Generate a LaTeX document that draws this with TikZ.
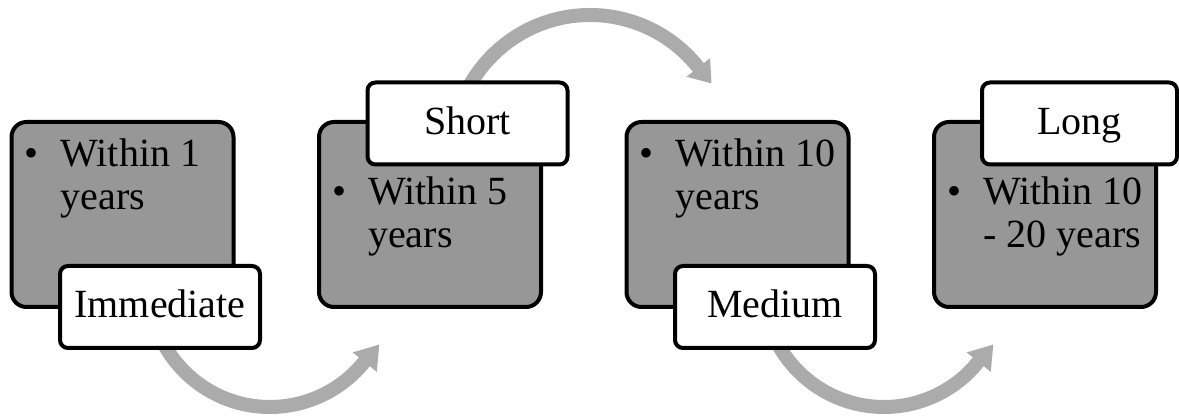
\documentclass[tikz,border=0pt]{standalone}
\usepackage{fontspec}
\setmainfont{Liberation Serif}
\usetikzlibrary{calc}
\definecolor{boxgray}{RGB}{151,151,151}
\definecolor{arrowgray}{RGB}{171,171,171}
\newcommand{\bulletlines}[2]{\begin{tabular}[t]{@{}l@{\hspace{22pt}}l@{}}\textbullet & #1\\ & #2\end{tabular}}
\begin{document}
\begin{tikzpicture}[x=1pt,y=1pt,
  stage/.style={draw=black, line width=4pt, fill=boxgray, rounded corners=15pt,
    minimum width=222pt, minimum height=185pt, inner sep=0pt},
  tag/.style={draw=black, line width=4pt, fill=white, rounded corners=8pt,
    minimum width=200pt, minimum height=82pt, inner sep=0pt,
    font=\fontsize{40}{43}\selectfont, text height=27pt, text depth=5pt},
  body/.style={anchor=base west, inner sep=0pt, font=\fontsize{40}{43}\selectfont},
  band/.style={draw=arrowgray, line width=14pt},
  head/.style={fill=arrowgray}]
\useasboundingbox (0,0) rectangle (1179,417);
% arrow centres
\coordinate (c1) at (270,131);
\coordinate (c2) at (590,264);
\coordinate (c3) at (884,131);
% arrows (behind)
\draw[band] ($(c1)+(180:121)$) arc[start angle=180, end angle=321.5, radius=121];
\fill[head] ($(c1)+(321.2:106)$) -- ($(c1)+(331.8:124)$) -- ($(c1)+(321.2:137)$) -- cycle;
\draw[band] ($(c2)+(180:138)$) arc[start angle=180, end angle=38, radius=138];
\fill[head] ($(c2)+(38.3:123)$) -- ($(c2)+(29.8:140)$) -- ($(c2)+(38.3:153)$) -- cycle;
\draw[band] ($(c3)+(180:121)$) arc[start angle=180, end angle=321.5, radius=121];
\fill[head] ($(c3)+(321.2:106)$) -- ($(c3)+(331.8:124)$) -- ($(c3)+(321.2:137)$) -- cycle;
% boxes
\node[stage] (b1) at (122.5,202.5) {};
\node[stage] (b2) at (430,202.5) {};
\node[stage] (b3) at (737.5,202.5) {};
\node[stage] (b4) at (1045,202.5) {};
% body texts
\node[body] (t1) at (24.5,250) {\bulletlines{Within 1}{years}};
\node[body] (t2) at (332,212) {\bulletlines{Within 5}{years}};
\node[body] (t3) at (639.5,250) {\bulletlines{Within 10}{years}};
\node[body] (t4) at (947,212) {\bulletlines{Within 10}{- 20 years}};
% labels
\node[tag] (l1) at (160,110) {Immediate};
\node[tag] (l2) at (467.5,293.5) {Short};
\node[tag] (l3) at (775,110) {Medium};
\node[tag, minimum width=195pt] (l4) at (1079.5,293.5) {Long};
\end{tikzpicture}
\end{document}
